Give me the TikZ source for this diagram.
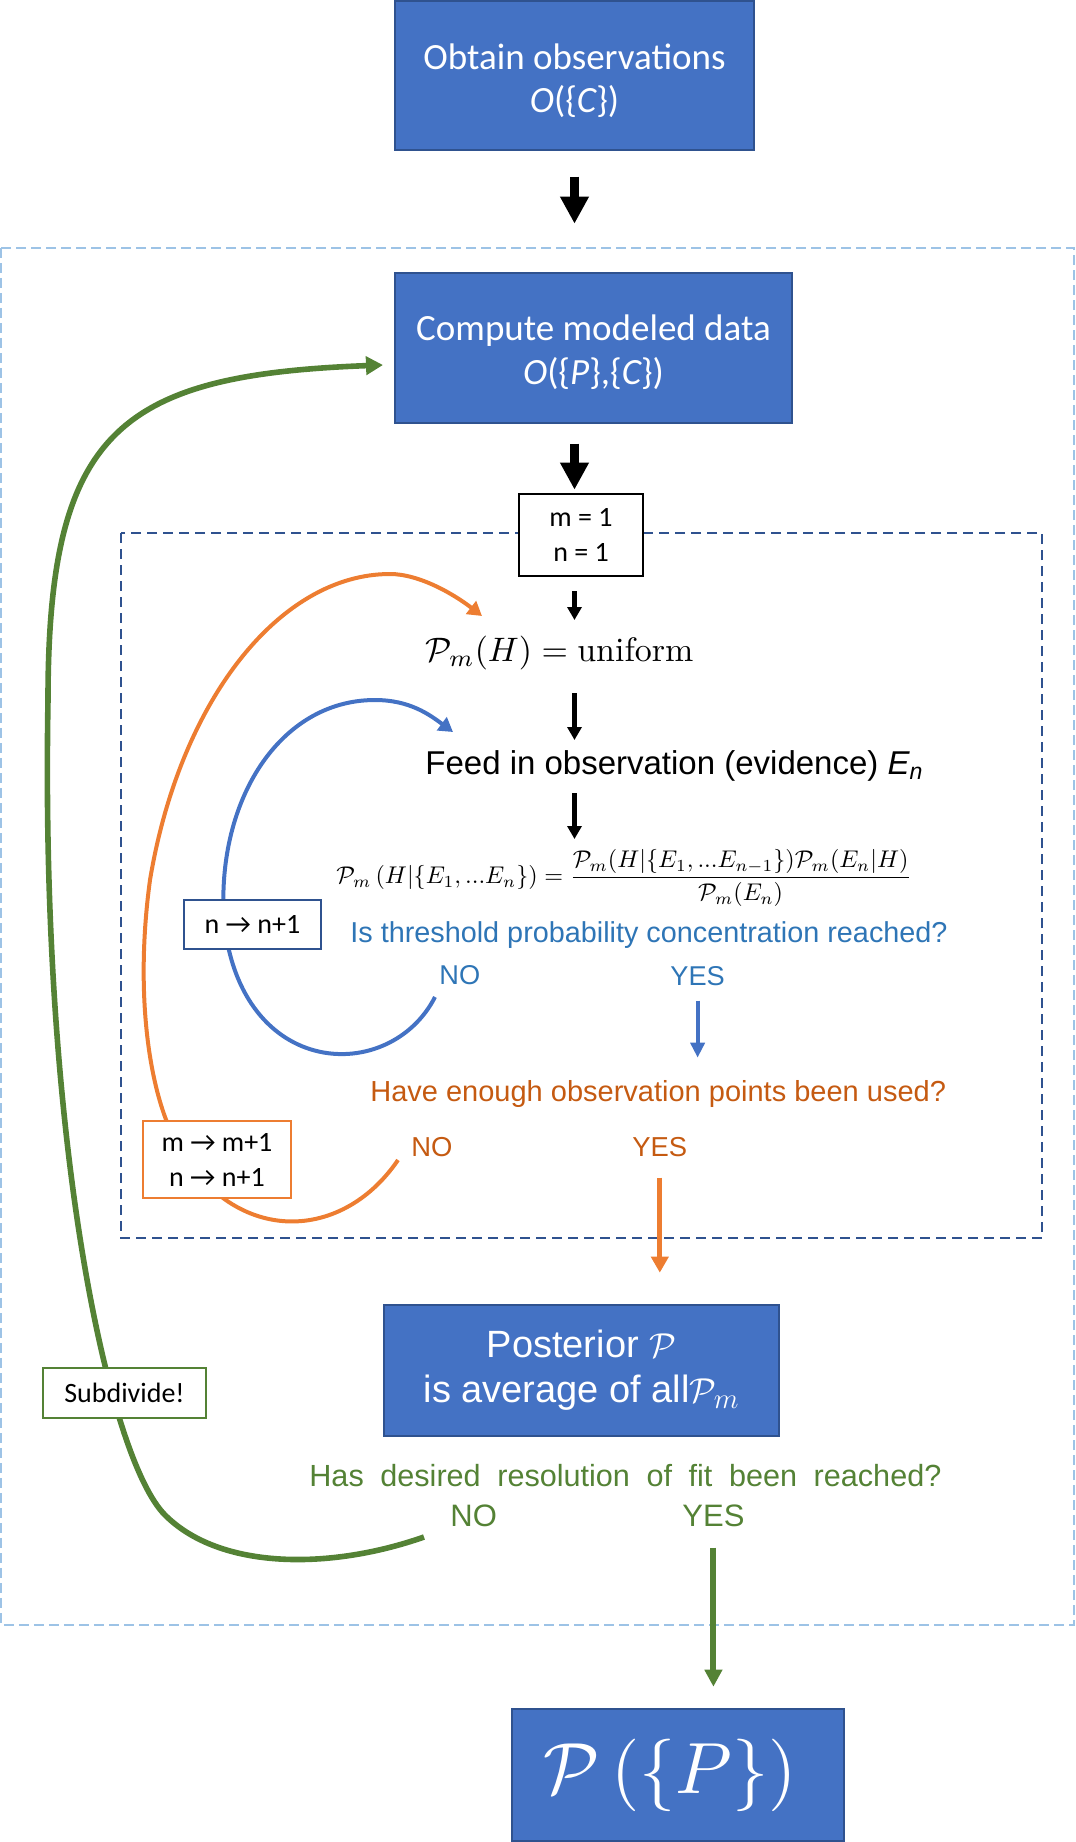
\documentclass[tikz,border=0pt]{standalone}
\usepackage{amsmath}
\usepackage{graphicx}
\usepackage{fontspec}
\usetikzlibrary{arrows.meta}
\newfontfamily\calibri{Carlito}
\newfontfamily\arial{Liberation Sans}
\definecolor{boxblue}{HTML}{4472C4}
\definecolor{boxedge}{HTML}{2F528F}
\definecolor{textblue}{HTML}{2E75B6}
\definecolor{orangeline}{HTML}{ED7D31}
\definecolor{orangetext}{HTML}{C55A11}
\definecolor{mygreen}{HTML}{548235}
\definecolor{lightdash}{HTML}{9DC3E6}
\begin{document}
\begin{tikzpicture}[x=0.5pt,y=-0.5pt,
  bluebox/.style={draw=boxedge,line width=0.7pt,fill=boxblue,text=white,align=center,inner sep=0pt},
  boxtext/.style={text=white,align=center,inner sep=0pt},
  smallbox/.style={fill=white,align=center,inner sep=0pt,line width=1pt,font=\calibri\fontsize{14}{17.5}\selectfont},
  txt/.style={inner sep=0pt,anchor=base west},
  bigarrow/.style={line width=4.5pt,-{Triangle[width=13.5pt,length=13.5pt]}},
  thinarrow/.style={line width=2.2pt,-{Triangle[width=7pt,length=6.5pt]}},
  loopline/.style={line width=2pt,-{Triangle[width=8pt,length=7pt]}}]
\useasboundingbox (0,0) rectangle (1076,1842);
% frames
\draw[lightdash,line width=1pt,dash pattern=on 5pt off 2.5pt] (1,248) rectangle (1074,1625);
\draw[boxedge,line width=1pt,dash pattern=on 5pt off 3pt] (121,533) rectangle (1042,1238);
% main nodes
\node[bluebox,minimum width=179.5pt,minimum height=74.5pt] (obs) at (574.5,75.5) {};
\node[boxtext,font=\calibri\fontsize{18.5}{21.5}\selectfont] (obstext) at (574.5,80.5)
  {Obtain observations\\{\itshape O}(\{{\itshape C}\})};
\node[bluebox,minimum width=198.5pt,minimum height=75pt] (model) at (593.5,348) {};
\node[boxtext,font=\calibri\fontsize{18.5}{22}\selectfont] (modeltext) at (593.5,352)
  {Compute modeled data\\{\itshape O}(\{{\itshape P}\},\{{\itshape C}\})};
\node[smallbox,draw=black,minimum width=62pt,minimum height=41pt] (init) at (581,535)
  {m = 1\\n = 1};
\node[txt] (prior) at (425,661) {\resizebox{134pt}{!}{$\mathcal{P}_m(H)=\mathrm{uniform}$}};
\node[txt,font=\arial\fontsize{16.5}{19}\selectfont] (feed) at (425,774) {Feed in observation (evidence) {\itshape E\textsubscript{n}}};
\node[inner sep=0pt,anchor=west] (bayes) at (336,878) {\resizebox{287.5pt}{!}{$\displaystyle \mathcal{P}_m\left(H|\{E_1,...E_n\}\right)=\frac{\mathcal{P}_m(H|\{E_1,...E_{n-1}\})\mathcal{P}_m(E_n|H)}{\mathcal{P}_m(E_n)}$}};
\node[txt,text=textblue,font=\arial\fontsize{14.4}{17}\selectfont] (q1) at (350,942) {Is threshold probability concentration reached?};
\node[txt,text=textblue,font=\arial\fontsize{13.6}{16}\selectfont] (no1) at (439,984) {NO};
\node[txt,text=textblue,font=\arial\fontsize{13.6}{16}\selectfont] (yes1) at (670,985) {YES};
\node[txt,text=orangetext,font=\arial\fontsize{14.5}{17}\selectfont] (q2) at (370,1101) {Have enough observation points been used?};
\node[txt,text=orangetext,font=\arial\fontsize{13.7}{16}\selectfont] (no2) at (411,1156) {NO};
\node[txt,text=orangetext,font=\arial\fontsize{13.7}{16}\selectfont] (yes2) at (632,1156) {YES};
\node[bluebox,minimum width=197.5pt,minimum height=65.5pt,font=\arial\fontsize{19}{22.5}\selectfont] (post) at (581.5,1370.5)
  {Posterior $\mathcal{P}$\\is average of all$\mathcal{P}_m$};
\node[txt,text=mygreen,font=\arial\fontsize{15.3}{18}\selectfont] (q3) at (309,1486) {\makebox[316pt][s]{Has desired resolution of fit been reached?}};
\node[txt,text=mygreen,font=\arial\fontsize{15.5}{18}\selectfont] (no3) at (450,1526) {NO};
\node[txt,text=mygreen,font=\arial\fontsize{15.5}{18}\selectfont] (yes3) at (682,1526) {YES};
\node[bluebox,minimum width=166pt,minimum height=66pt] (final) at (678,1775) {};
\node[inner sep=0pt,text=white] (finaltext) at (670,1775) {\resizebox{127pt}{!}{$\mathcal{P}\left(\{P\}\right)$}};
% straight arrows
\draw[bigarrow] (obs.south) ++(0,26) -- ++(0,47);
\draw[bigarrow] (model.south -| obs.south) ++(0,20) -- ++(0,46);
\draw[thinarrow] (init.south -| obs.south) ++(0,14) -- ++(0,29);
\draw[thinarrow] (prior.base -| obs.south) ++(0,32) -- ++(0,47);
\draw[thinarrow] (feed.base -| obs.south) ++(0,19) -- ++(0,46);
\draw[boxblue,line width=2pt,-{Triangle[width=7pt,length=7.5pt]}] (yes1.south) ++(0,15) -- ++(0,57);
\draw[orangeline,line width=2.5pt,-{Triangle[width=8.5pt,length=8pt]}] (yes2.south) ++(0,21) -- ++(0,95);
\draw[mygreen,line width=3pt,-{Triangle[width=8.5pt,length=8.5pt]}] (yes3.south) ++(0,21) -- ++(0,139);
% loops
\coordinate (bstart) at (435,997);
\coordinate (ostart) at (398,1160);
\coordinate (gstart) at (424,1537);
\draw[boxblue,loopline] (bstart) .. controls (390,1085) and (240,1080) .. (224,920)
  .. controls (216,800) and (280,700) .. (375,700)
  .. controls (410,700) and (430,715) .. (453,732);
\draw[orangeline,loopline] (ostart) .. controls (340,1245) and (230,1245) .. (175,1140)
  .. controls (148,1088) and (135,990) .. (150,880)
  .. controls (180,700) and (280,574) .. (390,574)
  .. controls (420,574) and (455,595) .. (482,616);
\draw[mygreen,line width=2.8pt,-{Triangle[width=9pt,length=8.5pt]}] (gstart) .. controls (330,1570) and (220,1570) .. (165,1515)
  .. controls (110,1460) and (40,1150) .. (48,700)
  .. controls (48,430) and (120,375) .. (383,365);
% counter boxes
\node[smallbox,draw=boxedge,minimum width=68.5pt,minimum height=24.5pt] (incn) at (252.5,924.5)
  {n → n+1};
\node[smallbox,draw=orangeline,minimum width=74pt,minimum height=38.5pt] (incm) at (217,1159.5)
  {m → m+1\\n → n+1};
\node[smallbox,draw=mygreen,line width=0.8pt,minimum width=81.5pt,minimum height=25pt] (subdiv) at (124.5,1393)
  {Subdivide!};
\end{tikzpicture}
\end{document}
